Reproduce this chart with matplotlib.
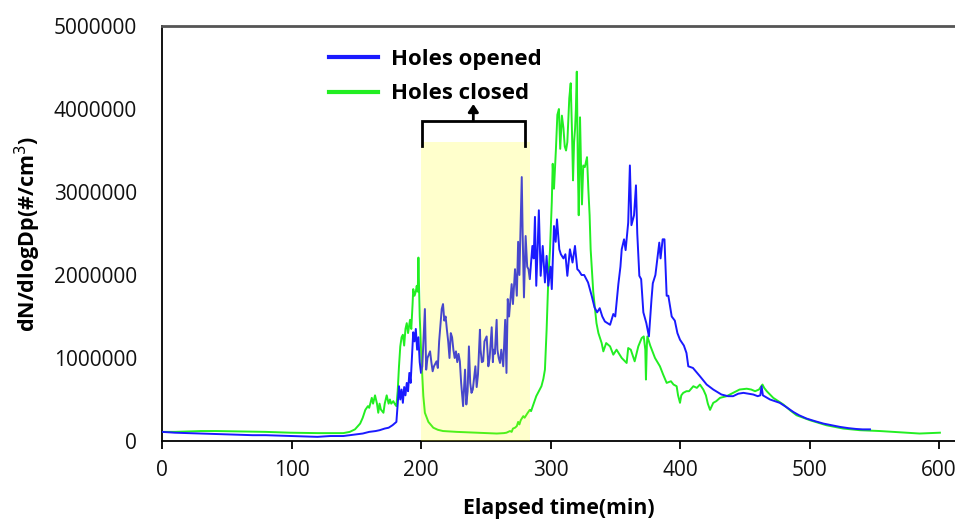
import matplotlib
matplotlib.use("Agg")
import matplotlib.pyplot as plt
from matplotlib.ticker import FuncFormatter

# ---------------- data (values in millions of #/cm3) ----------------
opened_t = [0, 10, 20, 30, 40, 50, 60, 70, 80, 90, 100, 110, 120, 130, 140, 145, 150, 155, 160, 165,
            168, 172, 175, 178, 181, 182, 183, 184, 185, 186, 187, 188, 189, 190, 191, 192, 193, 194,
            195, 196, 197, 198, 199, 200, 201, 203, 204, 205, 207, 208, 209, 210, 212, 213, 214, 216,
            217, 218, 219, 220, 221, 222, 223, 224, 225, 226, 227, 228, 229, 230, 231, 232.5, 234,
            235, 236, 237, 238, 239, 240, 242, 243, 244, 245.5, 246, 247, 248, 249, 250.7, 252, 253,
            254.6, 255.5, 256, 257, 258.4, 259, 260, 261, 262, 263.5, 265, 266, 267, 268, 270, 271,
            272.6, 274, 275, 276, 277.8, 278.5, 279.5, 280.8, 282, 283, 284, 286, 287, 288, 289, 290,
            291, 292.4, 294, 295.7, 297, 298.3, 300, 301, 302.7, 304, 305, 306.8, 308, 310, 311.5,
            313, 315, 317, 318.9, 320.7, 322, 324, 326, 329, 331.8, 334, 336, 338, 340, 342, 344, 346,
            348.5, 350, 352.4, 354, 355, 356.8, 358, 360, 361.3, 362.5, 364.5, 366, 367, 368.6, 370,
            371.7, 374, 376, 378, 379, 381, 384, 385, 386.6, 388, 389.7, 391, 393.6, 396, 398, 400,
            403, 405, 406.4, 410, 415.4, 420.6, 425.7, 432, 437, 441, 445, 449, 453, 456.6, 460, 462,
            463, 464, 469.5, 477, 482, 487.5, 492, 497.8, 504, 510.7, 517, 523.5, 530, 536, 541, 546.7]
opened_v = [0.11, 0.10, 0.095, 0.09, 0.085, 0.08, 0.075, 0.07, 0.07, 0.065, 0.06, 0.055, 0.05, 0.06,
            0.06, 0.07, 0.08, 0.09, 0.11, 0.12, 0.13, 0.15, 0.16, 0.19, 0.23, 0.45, 0.66, 0.50, 0.62,
            0.46, 0.65, 0.55, 0.70, 0.60, 0.82, 0.70, 1.00, 1.31, 1.20, 1.35, 1.10, 1.25, 0.95, 0.82,
            0.90, 1.59, 0.86, 1.00, 1.08, 0.95, 0.84, 0.90, 0.96, 0.88, 1.20, 1.59, 1.65, 1.45, 1.50,
            1.34, 1.20, 1.00, 1.30, 1.25, 1.10, 1.00, 1.08, 0.95, 1.05, 0.96, 0.70, 0.42, 0.86, 0.44,
            0.60, 1.14, 0.70, 0.58, 0.62, 0.90, 0.65, 0.80, 1.34, 1.10, 0.95, 0.96, 1.20, 1.26, 0.90,
            1.00, 1.37, 0.95, 1.10, 1.05, 1.46, 1.10, 1.00, 0.94, 1.10, 0.90, 1.46, 0.82, 1.71, 1.50,
            1.89, 1.65, 2.07, 1.75, 2.40, 2.00, 3.18, 2.50, 1.73, 2.47, 2.10, 2.07, 1.95, 2.35, 2.20,
            2.70, 1.87, 2.30, 2.78, 1.99, 2.35, 1.91, 2.23, 1.87, 2.10, 1.83, 2.59, 2.40, 2.67, 2.31,
            2.25, 2.20, 2.25, 1.99, 2.31, 2.15, 2.35, 2.07, 2.05, 2.00, 2.00, 1.91, 1.75, 1.61, 1.55,
            1.60, 1.50, 1.44, 1.42, 1.40, 1.53, 1.50, 1.89, 2.10, 2.31, 2.43, 2.30, 2.63, 3.32, 2.60,
            2.72, 3.08, 2.50, 1.99, 1.95, 1.55, 1.42, 1.26, 1.71, 1.90, 2.00, 2.39, 2.20, 2.43, 2.43,
            1.75, 1.75, 1.50, 1.45, 1.30, 1.22, 1.15, 1.06, 0.90, 0.88, 0.78, 0.68, 0.62, 0.56, 0.54,
            0.54, 0.57, 0.58, 0.57, 0.56, 0.54, 0.55, 0.66, 0.55, 0.50, 0.46, 0.41, 0.35, 0.31, 0.27,
            0.24, 0.21, 0.19, 0.17, 0.155, 0.145, 0.14, 0.14]

closed_t = [0, 10, 20, 30, 42, 60, 80, 99, 120, 140, 145, 149, 153, 155, 157, 159, 160, 162, 163,
            164.5, 166, 167, 168, 169, 171, 172, 173.5, 175, 176, 177, 178.6, 180, 181, 182, 183, 184,
            185, 186, 187, 188, 189, 190, 191.5, 192.5, 193.5, 194, 195, 196, 196.7, 197.5, 198, 199,
            200.5, 201.8, 203, 205.7, 209.5, 213, 217, 227.5, 235, 243, 250, 258.5, 264, 266, 268.7,
            270, 271, 272.6, 274, 275, 276, 277, 279, 280, 282, 284, 285, 287, 289, 291, 293, 294.5,
            295.7, 297, 298.3, 299.6, 301, 301.7, 302.7, 304.2, 305.3, 306.5, 307.5, 308.8, 310, 311,
            312, 313, 314.5, 315.6, 316.6, 317.4, 318.2, 319, 319.6, 320.3, 321.1, 321.8, 322.8,
            323.6, 324.3, 325.3, 326.5, 328.2, 329.2, 330.2, 331, 333, 335.5, 337, 339.5, 340.8, 343,
            346, 348.5, 351, 353, 355, 358.8, 360, 362, 365, 367.8, 370.4, 372, 373.2, 373.7, 374.4,
            374.8, 377, 380.7, 384.5, 387, 389.7, 393, 395, 397.4, 398.5, 400, 401, 402.5, 405, 407,
            410.3, 413, 415.4, 418, 420, 421.5, 423.2, 425.7, 428, 430.9, 436, 441, 446, 451.5, 455,
            458, 461, 463.7, 465, 467, 472, 479.8, 485, 490, 500.4, 513, 526, 539, 554.4, 570, 585,
            600.7]
closed_v = [0.11, 0.11, 0.115, 0.12, 0.12, 0.115, 0.11, 0.10, 0.095, 0.095, 0.11, 0.14, 0.21, 0.28,
            0.375, 0.42, 0.40, 0.52, 0.45, 0.55, 0.45, 0.34, 0.45, 0.38, 0.34, 0.45, 0.55, 0.45, 0.50,
            0.45, 0.48, 0.44, 0.42, 0.60, 0.90, 1.14, 1.25, 1.28, 1.15, 1.35, 1.42, 1.30, 1.46, 1.35,
            1.65, 1.83, 1.75, 1.80, 1.87, 1.80, 2.21, 1.50, 0.94, 0.54, 0.34, 0.23, 0.16, 0.135, 0.12,
            0.11, 0.105, 0.10, 0.095, 0.09, 0.095, 0.10, 0.12, 0.11, 0.15, 0.16, 0.18, 0.23, 0.20,
            0.25, 0.30, 0.28, 0.33, 0.375, 0.36, 0.45, 0.54, 0.60, 0.66, 0.75, 0.86, 1.34, 1.95, 2.30,
            2.88, 3.34, 3.04, 3.52, 3.93, 4.00, 3.52, 3.92, 3.77, 3.55, 3.50, 3.60, 4.13, 4.31, 3.72,
            3.14, 3.60, 3.77, 4.00, 4.45, 3.32, 2.72, 3.90, 3.30, 2.85, 3.32, 3.30, 3.42, 3.04, 2.72,
            2.31, 1.80, 1.42, 1.30, 1.18, 1.08, 1.18, 1.14, 1.04, 1.10, 1.05, 1.00, 0.94, 1.12, 1.10,
            0.96, 1.14, 1.24, 1.26, 1.10, 0.74, 1.15, 1.26, 1.15, 1.00, 0.90, 0.80, 0.70, 0.72, 0.68,
            0.66, 0.55, 0.46, 0.55, 0.58, 0.60, 0.60, 0.66, 0.64, 0.68, 0.62, 0.55, 0.45, 0.375, 0.46,
            0.48, 0.52, 0.54, 0.58, 0.62, 0.63, 0.62, 0.60, 0.62, 0.68, 0.64, 0.60, 0.52, 0.44, 0.37,
            0.31, 0.25, 0.19, 0.15, 0.13, 0.12, 0.105, 0.09, 0.10]

series_labels = ["Holes opened", "Holes closed"]
x_ticks = [0, 100, 200, 300, 400, 500, 600]
y_ticks = [0, 1000000, 2000000, 3000000, 4000000, 5000000]
shade_span = (200, 284)       # closed period (min)
shade_top = 3.6e6
bracket_span = (200.5, 280.3)
MILLION = 1e6

# ---------------- figure ----------------
plt.rcParams['font.family'] = ['Open Sans', 'DejaVu Sans']
fig = plt.figure(figsize=(9.55, 5.19), dpi=100)
ax = fig.add_axes([162 / 955, 78 / 519, (955 - 162) / 955, 415 / 519])

ax.plot(opened_t, [v * MILLION for v in opened_v], color='#1a1aff', lw=1.4, label=series_labels[0], zorder=3)
ax.plot(closed_t, [v * MILLION for v in closed_v], color='#22ee22', lw=1.4, label=series_labels[1], zorder=2)

# shaded period (drawn on top, translucent)
ax.fill_between(list(shade_span), 0, shade_top, color='#ffff00', alpha=0.2, lw=0, zorder=4)

# bracket with upward arrow
bx0, bx1 = bracket_span
ax.plot([bx0, bx0, bx1, bx1], [3.555e6, 3.86e6, 3.86e6, 3.555e6], color='black', lw=2,
        solid_joinstyle='miter', zorder=5, clip_on=False)
mid = (bx0 + bx1) / 2
ax.annotate('', xy=(mid, 4.06e6), xytext=(mid, 3.86e6),
            arrowprops=dict(arrowstyle='-|>,head_length=0.45,head_width=0.3', color='black', lw=2,
                            shrinkA=0, shrinkB=0), zorder=5)

ax.set_xlim(0, (955 - 162) / 1.295)
ax.set_ylim(0, 5e6)
ax.set_xticks(x_ticks)
ax.set_yticks(y_ticks)
ax.yaxis.set_major_formatter(FuncFormatter(lambda v, p: f"{int(v)}"))
ax.tick_params(axis='x', direction='out', length=6, width=1.3, pad=8, labelsize=15, colors='black',
               labelcolor='#111111')
ax.tick_params(axis='y', length=0, pad=18, labelsize=15, labelcolor='#111111')

for s in ['left', 'bottom']:
    ax.spines[s].set_color('black')
    ax.spines[s].set_linewidth(1.3)
ax.spines['right'].set_visible(False)
ax.spines['top'].set_color('#555555')
ax.spines['top'].set_linewidth(2)

ax.set_xlabel('Elapsed time(min)', fontsize=15.3, fontweight='bold', labelpad=12)
ax.set_ylabel('dN/dlogDp(#/cm$^3$)', fontsize=15.5, fontweight='bold', labelpad=8)

leg = ax.legend(loc='upper left', bbox_to_anchor=(329 / 955, 1 - 49 / 519), bbox_transform=fig.transFigure,
                frameon=False, fontsize=16, handlelength=2.2, handletextpad=0.6, labelspacing=0.6,
                borderpad=0, borderaxespad=0)
for line in leg.get_lines():
    line.set_linewidth(3)
for t in leg.get_texts():
    t.set_fontweight('bold')

fig.savefig('out.png', dpi=100)
